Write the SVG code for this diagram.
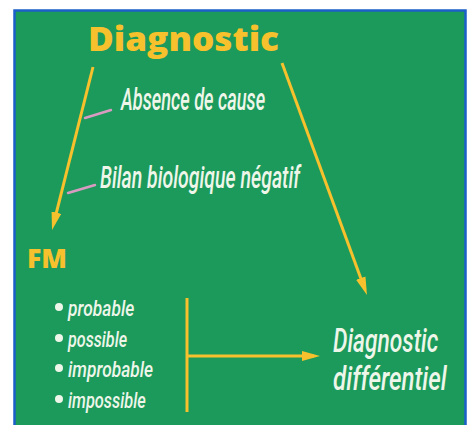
<svg xmlns="http://www.w3.org/2000/svg" width="471" height="425" viewBox="0 0 471 425">
<style>
.title{font-family:"Open Sans","Liberation Sans",sans-serif;font-weight:800;fill:#f6c12c;}
.lbl{font-family:Roboto,"Liberation Sans",sans-serif;font-style:italic;font-weight:500;fill:#eef6ea;}
.conn{stroke:#f6c12c;stroke-width:3;fill:none;}
.tick{stroke:#d99bc2;stroke-width:2.5;stroke-linecap:round;}
.dot{fill:#eef6ea;}
</style>
<defs>
<marker id="ah" markerUnits="userSpaceOnUse" markerWidth="18" markerHeight="10" refX="12" refY="5" orient="auto" viewBox="0 0 18 10">
<path d="M0,0 L18,5 L0,10 Z" fill="#f6c12c"/>
</marker>
</defs>
<rect x="0" y="0" width="471" height="425" fill="#ffffff"/>
<rect x="14.5" y="10.5" width="451" height="420" fill="#1c9a5b" stroke="#1c5fc9" stroke-width="2.5"/>
<g id="connectors">
<line class="conn" x1="93" y1="67" x2="53.5" y2="224.2" marker-end="url(#ah)"/>
<line class="conn" x1="282" y1="63" x2="364.9" y2="289.4" marker-end="url(#ah)"/>
<line class="conn" x1="187" y1="298" x2="187" y2="412"/>
<line class="conn" x1="187" y1="356" x2="314" y2="356" marker-end="url(#ah)"/>
<line class="tick" x1="85" y1="118" x2="111" y2="110"/>
<line class="tick" x1="68" y1="193" x2="95" y2="185"/>
</g>
<g id="node-diagnostic">
<text class="title" x="88" y="51" font-size="33" textLength="191" lengthAdjust="spacingAndGlyphs">Diagnostic</text>
</g>
<g id="label-absence">
<text class="lbl" transform="translate(121,110) scale(0.68,1)" x="0" y="0" font-size="31" textLength="212" lengthAdjust="spacingAndGlyphs">Absence de cause</text>
</g>
<g id="label-bilan">
<text class="lbl" transform="translate(100,188) scale(0.68,1)" x="0" y="0" font-size="31" textLength="294" lengthAdjust="spacingAndGlyphs">Bilan biologique négatif</text>
</g>
<g id="node-fm">
<text class="title" x="27" y="268" font-size="26" textLength="40" lengthAdjust="spacingAndGlyphs">FM</text>
</g>
<g id="node-list">
<circle class="dot" cx="59" cy="307" r="4"/>
<text class="lbl" transform="translate(68,316) scale(0.72,1)" x="0" y="0" font-size="22" textLength="92" lengthAdjust="spacingAndGlyphs">probable</text>
<circle class="dot" cx="59" cy="338" r="4"/>
<text class="lbl" transform="translate(68,347) scale(0.72,1)" x="0" y="0" font-size="22" textLength="82" lengthAdjust="spacingAndGlyphs">possible</text>
<circle class="dot" cx="59" cy="368" r="4"/>
<text class="lbl" transform="translate(68,377) scale(0.72,1)" x="0" y="0" font-size="22" textLength="118" lengthAdjust="spacingAndGlyphs">improbable</text>
<circle class="dot" cx="59" cy="399" r="4"/>
<text class="lbl" transform="translate(68,408) scale(0.72,1)" x="0" y="0" font-size="22" textLength="108" lengthAdjust="spacingAndGlyphs">impossible</text>
</g>
<g id="node-differentiel">
<text class="lbl" transform="translate(333,352) scale(0.65,1)" x="0" y="0" font-size="33" textLength="162" lengthAdjust="spacingAndGlyphs">Diagnostic</text>
<text class="lbl" transform="translate(333,390) scale(0.65,1)" x="0" y="0" font-size="33" textLength="175" lengthAdjust="spacingAndGlyphs">différentiel</text>
</g>
</svg>
